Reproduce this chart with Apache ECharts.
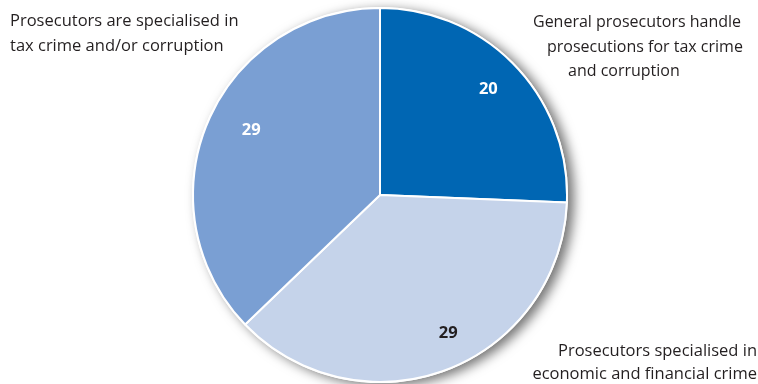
<!DOCTYPE html>
<html>
<head>
<meta charset="utf-8">
<script src="https://cdn.jsdelivr.net/npm/echarts@6/dist/echarts.min.js"></script>
<style>
  html, body { margin: 0; padding: 0; background: #fff; }
  #chart { width: 758px; height: 384px; }
</style>
</head>
<body>
<div id="chart"></div>
<script>
// Prosecution arrangements for tax crime and corruption (number of countries)
const categories = [
  'General prosecutors handle\nprosecutions for tax crime\nand corruption',
  'Prosecutors specialised in\neconomic and financial crime',
  'Prosecutors are specialised in\ntax crime and/or corruption'
];
const values = [20, 29, 29];
const sliceColors = ['#0066b3', '#c5d3ea', '#7a9fd3'];
const valueLabelColors = ['#ffffff', '#231f20', '#ffffff'];

const FONT = '"Open Sans", "Noto Sans", sans-serif';
const center = [380, 195];
const R = 187;

const chart = echarts.init(document.getElementById('chart'), null, { renderer: 'canvas' });

// Category captions placed around the pie
const captionLayout = [
  // top right: individually indented lines
  { lines: [[533, 22], [547, 47], [568, 71]], align: 'left', size: 16 },
  // bottom right: right aligned
  { lines: [[757, 351], [757, 374]], align: 'right', size: 16.5 },
  // top left
  { lines: [[10, 21], [10, 46]], align: 'left', size: 16.5 }
];
const graphics = [];
categories.forEach((name, i) => {
  const parts = name.split('\n');
  parts.forEach((line, j) => {
    const pos = captionLayout[i].lines[j];
    graphics.push({
      type: 'text',
      x: pos[0],
      y: pos[1],
      style: {
        text: line,
        fill: '#231f20',
        font: captionLayout[i].size + 'px ' + FONT,
        textAlign: captionLayout[i].align,
        textVerticalAlign: 'middle'
      }
    });
  });
});

const labelOffsets = [[-2, 0], [14, -5], [12, -5]];

chart.setOption({
  animation: false,
  graphic: graphics,
  series: [
    {
      // soft drop shadow disc beneath the slices
      type: 'pie',
      silent: true,
      z: 1,
      center: center,
      radius: R + 1,
      startAngle: 90,
      label: { show: false },
      labelLine: { show: false },
      data: [{ value: 1, itemStyle: {
        color: '#ffffff',
        shadowColor: 'rgba(0,0,0,0.55)',
        shadowBlur: 12,
        shadowOffsetX: 6,
        shadowOffsetY: 3
      } }]
    },
    {
      type: 'pie',
      z: 2,
      center: center,
      radius: R,
      startAngle: 90,
      clockwise: true,
      label: { show: false },
      labelLine: { show: false },
      itemStyle: { borderColor: '#ffffff', borderWidth: 2 },
      data: values.map((v, i) => ({
        value: v,
        name: categories[i],
        itemStyle: { color: sliceColors[i] }
      }))
    },
    {
      // value labels set near the outer part of each slice
      type: 'pie',
      z: 3,
      silent: true,
      center: center,
      radius: [113, R],
      startAngle: 90,
      clockwise: true,
      itemStyle: { color: 'rgba(0,0,0,0)' },
      labelLine: { show: false },
      data: values.map((v, i) => ({
        value: v,
        name: categories[i],
        label: {
          show: true,
          position: 'inside',
          formatter: String(v),
          color: valueLabelColors[i],
          fontFamily: FONT,
          fontWeight: 'bold',
          fontSize: 16.5,
          offset: labelOffsets[i]
        }
      }))
    }
  ]
});
</script>
</body>
</html>
